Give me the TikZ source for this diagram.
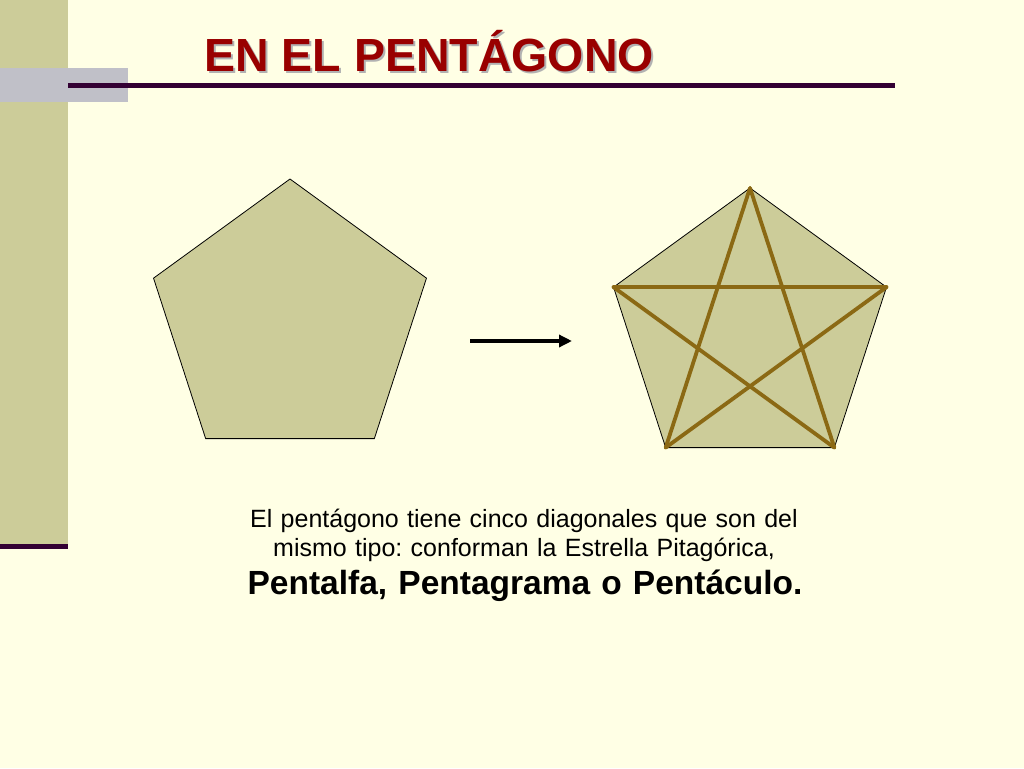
\documentclass[tikz,border=0pt]{standalone}
\usepackage{fontspec}
\setmainfont{Liberation Sans}
\usetikzlibrary{shapes.geometric,arrows.meta}
\definecolor{paper}{RGB}{255,255,229}
\definecolor{khaki}{RGB}{204,204,153}
\definecolor{greybar}{RGB}{192,192,200}
\definecolor{plum}{RGB}{51,0,51}
\definecolor{titlered}{RGB}{153,0,0}
\definecolor{starline}{RGB}{139,105,20}
\frenchspacing

\begin{document}
\begin{tikzpicture}[x=1pt,y=-1pt,
  penta/.style={regular polygon, regular polygon sides=5, minimum size=287pt,
    inner sep=0pt, outer sep=0pt, draw=black, line width=0.8pt, fill=khaki},
  diag/.style={draw=starline, line width=3.8pt, line cap=round},
  caption/.style={align=center, text width=800pt, font=\fontsize{25}{29}\selectfont}]
% slide background
\fill[paper] (0,0) rectangle (1024,768);
\useasboundingbox (0,0) rectangle (1024,768);
\fill[khaki] (0,0) rectangle (68,545);
\fill[greybar] (0,68) rectangle (128,102);
\fill[plum] (68,83) rectangle (895,88);
\fill[plum] (0,544) rectangle (68,549);
% title
\node[text=black!30, font=\bfseries\fontsize{46.5}{46}\selectfont] (shadow) at (431,53) {EN EL PENTÁGONO};
\node[text=titlered, font=\bfseries\fontsize{46.5}{46}\selectfont] (title) at (429,51) {EN EL PENTÁGONO};
% pentagons
\node[penta] (p) at (290,322.5) {};
\node[penta] (q) at (750,331.5) {};
\draw[diag] (q.corner 1) -- (q.corner 3);
\draw[diag] (q.corner 1) -- (q.corner 4);
\draw[diag] (q.corner 2) -- (q.corner 5);
\draw[diag] (q.corner 2) -- (q.corner 4);
\draw[diag] (q.corner 3) -- (q.corner 5);
% arrow
\coordinate (a) at (470,341);
\coordinate (b) at (572,341);
\draw[line width=4pt, -{Triangle[length=13pt,width=12pt]}] (a) -- (b);
% caption
\node[caption] (text) at (524,535) {El pentágono tiene cinco diagonales que son del\\
  mismo tipo: conforman la Estrella Pitagórica,};
\node[caption, anchor=base, font=\bfseries\fontsize{33.5}{36}\selectfont] (names) at (525,594) {Pentalfa, Pentagrama o Pentáculo.};
\end{tikzpicture}
\end{document}
